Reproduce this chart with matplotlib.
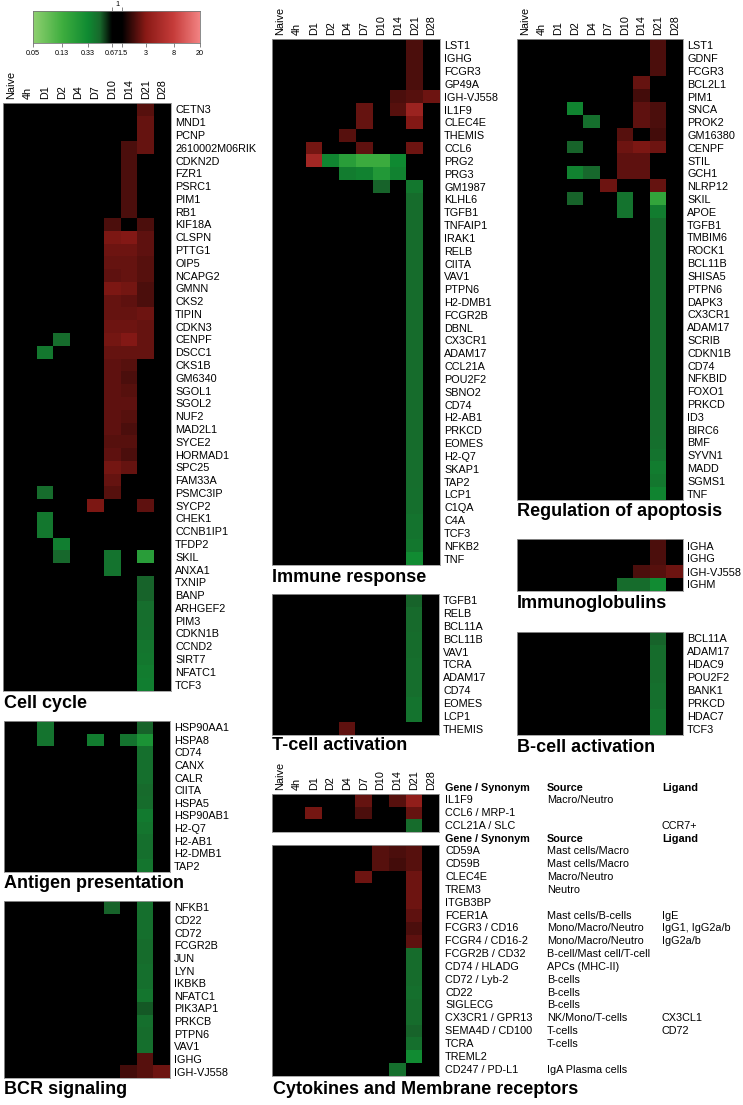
import numpy as np
import matplotlib
matplotlib.use("Agg")
import matplotlib.pyplot as plt
from matplotlib.colors import LinearSegmentedColormap, FuncNorm
from matplotlib import transforms

plt.rcParams['font.family'] = ['Liberation Sans', 'DejaVu Sans']

#=============== DADOS ===============#
o = 1.0  # sem alteração (fold change = 1)

time_points = ["Naive", "4h", "D1", "D2", "D4", "D7", "D10", "D14", "D21", "D28"]
scale_ticks = [0.05, 0.13, 0.33, 0.67, 1.5, 3, 8, 20]
scale_labels = ["0.05", "0.13", "0.33", "0.67", "1.5", "3", "8", "20"]

cc_genes = ["CETN3", "MND1", "PCNP", "2610002M06RIK", "CDKN2D", "FZR1", "PSRC1", "PIM1", "RB1",
            "KIF18A", "CLSPN", "PTTG1", "OIP5", "NCAPG2", "GMNN", "CKS2", "TIPIN", "CDKN3", "CENPF",
            "DSCC1", "CKS1B", "GM6340", "SGOL1", "SGOL2", "NUF2", "MAD2L1", "SYCE2", "HORMAD1",
            "SPC25", "FAM33A", "PSMC3IP", "SYCP2", "CHEK1", "CCNB1IP1", "TFDP2", "SKIL", "ANXA1",
            "TXNIP", "BANP", "ARHGEF2", "PIM3", "CDKN1B", "CCND2", "SIRT7", "NFATC1", "TCF3"]
cc_values = [
    [o, o, o, o, o, o, o, o, 2.3, o],
    [o, o, o, o, o, o, o, o, 2.5, o],
    [o, o, o, o, o, o, o, o, 2.5, o],
    [o, o, o, o, o, o, o, 2.2, 2.5, o],
    [o, o, o, o, o, o, o, 2.2, o, o],
    [o, o, o, o, o, o, o, 2.2, o, o],
    [o, o, o, o, o, o, o, 2.2, o, o],
    [o, o, o, o, o, o, o, 2.2, o, o],
    [o, o, o, o, o, o, o, 2.2, o, o],
    [o, o, o, o, o, o, 2.2, o, 2.2, o],
    [o, o, o, o, o, o, 2.8, 2.9, 2.4, o],
    [o, o, o, o, o, o, 2.6, 2.6, 2.4, o],
    [o, o, o, o, o, o, 2.5, 2.5, 2.3, o],
    [o, o, o, o, o, o, 2.4, 2.5, 2.3, o],
    [o, o, o, o, o, o, 2.8, 2.7, 2.2, o],
    [o, o, o, o, o, o, 2.5, 2.4, 2.2, o],
    [o, o, o, o, o, o, 2.5, 2.5, 2.6, o],
    [o, o, o, o, o, o, 2.6, 2.6, 2.5, o],
    [o, o, o, 0.45, o, o, 2.7, 2.9, 2.5, o],
    [o, o, 0.4, o, o, o, 2.5, 2.5, 2.5, o],
    [o, o, o, o, o, o, 2.4, 2.3, o, o],
    [o, o, o, o, o, o, 2.4, 2.2, o, o],
    [o, o, o, o, o, o, 2.4, 2.3, o, o],
    [o, o, o, o, o, o, 2.4, 2.4, o, o],
    [o, o, o, o, o, o, 2.4, 2.3, o, o],
    [o, o, o, o, o, o, 2.4, 2.2, o, o],
    [o, o, o, o, o, o, 2.3, 2.3, o, o],
    [o, o, o, o, o, o, 2.4, 2.2, o, o],
    [o, o, o, o, o, o, 2.7, 2.5, o, o],
    [o, o, o, o, o, o, 2.5, o, o, o],
    [o, o, 0.45, o, o, o, 2.3, o, o, o],
    [o, o, o, o, o, 2.8, o, o, 2.4, o],
    [o, o, 0.4, o, o, o, o, o, o, o],
    [o, o, 0.4, o, o, o, o, o, o, o],
    [o, o, o, 0.37, o, o, o, o, o, o],
    [o, o, o, 0.47, o, o, 0.42, o, 0.2, o],
    [o, o, o, o, o, o, 0.42, o, o, o],
    [o, o, o, o, o, o, o, o, 0.48, o],
    [o, o, o, o, o, o, o, o, 0.48, o],
    [o, o, o, o, o, o, o, o, 0.44, o],
    [o, o, o, o, o, o, o, o, 0.44, o],
    [o, o, o, o, o, o, o, o, 0.43, o],
    [o, o, o, o, o, o, o, o, 0.41, o],
    [o, o, o, o, o, o, o, o, 0.4, o],
    [o, o, o, o, o, o, o, o, 0.38, o],
    [o, o, o, o, o, o, o, o, 0.37, o],
]

ag_genes = ["HSP90AA1", "HSPA8", "CD74", "CANX", "CALR", "CIITA", "HSPA5", "HSP90AB1",
            "H2-Q7", "H2-AB1", "H2-DMB1", "TAP2"]
ag_values = [
    [o, o, 0.42, o, o, o, o, o, 0.48, o],
    [o, o, 0.42, o, o, 0.38, o, 0.42, 0.26, o],
    [o, o, o, o, o, o, o, o, 0.43, o],
    [o, o, o, o, o, o, o, o, 0.43, o],
    [o, o, o, o, o, o, o, o, 0.43, o],
    [o, o, o, o, o, o, o, o, 0.46, o],
    [o, o, o, o, o, o, o, o, 0.45, o],
    [o, o, o, o, o, o, o, o, 0.39, o],
    [o, o, o, o, o, o, o, o, 0.41, o],
    [o, o, o, o, o, o, o, o, 0.43, o],
    [o, o, o, o, o, o, o, o, 0.43, o],
    [o, o, o, o, o, o, o, o, 0.41, o],
]

bcr_genes = ["NFKB1", "CD22", "CD72", "FCGR2B", "JUN", "LYN", "IKBKB", "NFATC1", "PIK3AP1",
             "PRKCB", "PTPN6", "VAV1", "IGHG", "IGH-VJ558"]
bcr_values = [
    [o, o, o, o, o, o, 0.48, o, 0.43, o],
    [o, o, o, o, o, o, o, o, 0.43, o],
    [o, o, o, o, o, o, o, o, 0.43, o],
    [o, o, o, o, o, o, o, o, 0.45, o],
    [o, o, o, o, o, o, o, o, 0.45, o],
    [o, o, o, o, o, o, o, o, 0.43, o],
    [o, o, o, o, o, o, o, o, 0.43, o],
    [o, o, o, o, o, o, o, o, 0.41, o],
    [o, o, o, o, o, o, o, o, 0.5, o],
    [o, o, o, o, o, o, o, o, 0.43, o],
    [o, o, o, o, o, o, o, o, 0.45, o],
    [o, o, o, o, o, o, o, o, 0.43, o],
    [o, o, o, o, o, o, o, o, 2.3, o],
    [o, o, o, o, o, o, o, 2.1, 2.3, 2.6],
]

imm_genes = ["LST1", "IGHG", "FCGR3", "GP49A", "IGH-VJ558", "IL1F9", "CLEC4E", "THEMIS", "CCL6",
             "PRG2", "PRG3", "GM1987", "KLHL6", "TGFB1", "TNFAIP1", "IRAK1", "RELB", "CIITA",
             "VAV1", "PTPN6", "H2-DMB1", "FCGR2B", "DBNL", "CX3CR1", "ADAM17", "CCL21A", "POU2F2",
             "SBNO2", "CD74", "H2-AB1", "PRKCD", "EOMES", "H2-Q7", "SKAP1", "TAP2", "LCP1",
             "C1QA", "C4A", "TCF3", "NFKB2", "TNF"]
imm_values = [
    [o, o, o, o, o, o, o, o, 2.2, o],
    [o, o, o, o, o, o, o, o, 2.2, o],
    [o, o, o, o, o, o, o, o, 2.2, o],
    [o, o, o, o, o, o, o, o, 2.2, o],
    [o, o, o, o, o, o, o, 2.2, 2.3, 2.6],
    [o, o, o, o, o, 2.5, o, 2.3, 4.0, o],
    [o, o, o, o, o, 2.5, o, o, 2.9, o],
    [o, o, o, o, 2.3, o, o, o, o, o],
    [o, o, 2.7, o, o, 2.4, o, o, 2.6, o],
    [o, o, 4.5, 0.35, 0.2, 0.14, 0.14, 0.33, o, o],
    [o, o, o, o, 0.38, 0.36, 0.23, 0.36, o, o],
    [o, o, o, o, o, o, 0.48, o, 0.4, o],
    [o, o, o, o, o, o, o, o, 0.45, o],
    [o, o, o, o, o, o, o, o, 0.45, o],
    [o, o, o, o, o, o, o, o, 0.45, o],
    [o, o, o, o, o, o, o, o, 0.45, o],
    [o, o, o, o, o, o, o, o, 0.45, o],
    [o, o, o, o, o, o, o, o, 0.45, o],
    [o, o, o, o, o, o, o, o, 0.45, o],
    [o, o, o, o, o, o, o, o, 0.45, o],
    [o, o, o, o, o, o, o, o, 0.45, o],
    [o, o, o, o, o, o, o, o, 0.45, o],
    [o, o, o, o, o, o, o, o, 0.45, o],
    [o, o, o, o, o, o, o, o, 0.45, o],
    [o, o, o, o, o, o, o, o, 0.45, o],
    [o, o, o, o, o, o, o, o, 0.45, o],
    [o, o, o, o, o, o, o, o, 0.45, o],
    [o, o, o, o, o, o, o, o, 0.45, o],
    [o, o, o, o, o, o, o, o, 0.45, o],
    [o, o, o, o, o, o, o, o, 0.45, o],
    [o, o, o, o, o, o, o, o, 0.45, o],
    [o, o, o, o, o, o, o, o, 0.45, o],
    [o, o, o, o, o, o, o, o, 0.44, o],
    [o, o, o, o, o, o, o, o, 0.44, o],
    [o, o, o, o, o, o, o, o, 0.44, o],
    [o, o, o, o, o, o, o, o, 0.43, o],
    [o, o, o, o, o, o, o, o, 0.43, o],
    [o, o, o, o, o, o, o, o, 0.42, o],
    [o, o, o, o, o, o, o, o, 0.42, o],
    [o, o, o, o, o, o, o, o, 0.4, o],
    [o, o, o, o, o, o, o, o, 0.32, o],
]

tc_genes = ["TGFB1", "RELB", "BCL11A", "BCL11B", "VAV1", "TCRA", "ADAM17", "CD74", "EOMES",
            "LCP1", "THEMIS"]
tc_values = [
    [o, o, o, o, o, o, o, o, 0.48, o],
    [o, o, o, o, o, o, o, o, 0.46, o],
    [o, o, o, o, o, o, o, o, 0.46, o],
    [o, o, o, o, o, o, o, o, 0.45, o],
    [o, o, o, o, o, o, o, o, 0.45, o],
    [o, o, o, o, o, o, o, o, 0.44, o],
    [o, o, o, o, o, o, o, o, 0.44, o],
    [o, o, o, o, o, o, o, o, 0.44, o],
    [o, o, o, o, o, o, o, o, 0.42, o],
    [o, o, o, o, o, o, o, o, 0.42, o],
    [o, o, o, o, 2.4, o, o, o, o, o],
]

apo_genes = ["LST1", "GDNF", "FCGR3", "BCL2L1", "PIM1", "SNCA", "PROK2", "GM16380", "CENPF",
             "STIL", "GCH1", "NLRP12", "SKIL", "APOE", "TGFB1", "TMBIM6", "ROCK1", "BCL11B",
             "SHISA5", "PTPN6", "DAPK3", "CX3CR1", "ADAM17", "SCRIB", "CDKN1B", "CD74", "NFKBID",
             "FOXO1", "PRKCD", "ID3", "BIRC6", "BMF", "SYVN1", "MADD", "SGMS1", "TNF"]
apo_values = [
    [o, o, o, o, o, o, o, o, 2.2, o],
    [o, o, o, o, o, o, o, o, 2.2, o],
    [o, o, o, o, o, o, o, o, 2.2, o],
    [o, o, o, o, o, o, o, 2.5, o, o],
    [o, o, o, o, o, o, o, 2.1, o, o],
    [o, o, o, 0.35, o, o, o, 2.4, 2.2, o],
    [o, o, o, o, 0.43, o, o, 2.4, 2.2, o],
    [o, o, o, o, o, o, 2.3, o, 2.1, o],
    [o, o, o, 0.48, o, o, 2.6, 2.8, 2.6, o],
    [o, o, o, o, o, o, 2.4, 2.4, o, o],
    [o, o, o, 0.36, 0.47, o, 2.4, 2.4, o, o],
    [o, o, o, o, o, 2.6, o, o, 2.5, o],
    [o, o, o, 0.48, o, o, 0.42, o, 0.17, o],
    [o, o, o, o, o, o, 0.42, o, 0.38, o],
    [o, o, o, o, o, o, o, o, 0.45, o],
    [o, o, o, o, o, o, o, o, 0.45, o],
    [o, o, o, o, o, o, o, o, 0.45, o],
    [o, o, o, o, o, o, o, o, 0.45, o],
    [o, o, o, o, o, o, o, o, 0.45, o],
    [o, o, o, o, o, o, o, o, 0.45, o],
    [o, o, o, o, o, o, o, o, 0.45, o],
    [o, o, o, o, o, o, o, o, 0.45, o],
    [o, o, o, o, o, o, o, o, 0.45, o],
    [o, o, o, o, o, o, o, o, 0.45, o],
    [o, o, o, o, o, o, o, o, 0.45, o],
    [o, o, o, o, o, o, o, o, 0.45, o],
    [o, o, o, o, o, o, o, o, 0.45, o],
    [o, o, o, o, o, o, o, o, 0.45, o],
    [o, o, o, o, o, o, o, o, 0.45, o],
    [o, o, o, o, o, o, o, o, 0.44, o],
    [o, o, o, o, o, o, o, o, 0.44, o],
    [o, o, o, o, o, o, o, o, 0.43, o],
    [o, o, o, o, o, o, o, o, 0.42, o],
    [o, o, o, o, o, o, o, o, 0.38, o],
    [o, o, o, o, o, o, o, o, 0.4, o],
    [o, o, o, o, o, o, o, o, 0.35, o],
]

ig_genes = ["IGHA", "IGHG", "IGH-VJ558", "IGHM"]
ig_values = [
    [o, o, o, o, o, o, o, o, 2.2, o],
    [o, o, o, o, o, o, o, o, 2.2, o],
    [o, o, o, o, o, o, o, 2.2, 2.3, 2.6],
    [o, o, o, o, o, o, 0.45, 0.45, 0.32, o],
]

bc_genes = ["BCL11A", "ADAM17", "HDAC9", "POU2F2", "BANK1", "PRKCD", "HDAC7", "TCF3"]
bc_values = [
    [o, o, o, o, o, o, o, o, 0.48, o],
    [o, o, o, o, o, o, o, o, 0.45, o],
    [o, o, o, o, o, o, o, o, 0.45, o],
    [o, o, o, o, o, o, o, o, 0.45, o],
    [o, o, o, o, o, o, o, o, 0.43, o],
    [o, o, o, o, o, o, o, o, 0.43, o],
    [o, o, o, o, o, o, o, o, 0.41, o],
    [o, o, o, o, o, o, o, o, 0.41, o],
]

cyt_genes = ["IL1F9", "CCL6 / MRP-1", "CCL21A / SLC"]
cyt_sources = ["Macro/Neutro", "", ""]
cyt_ligands = ["", "", "CCR7+"]
cyt_values = [
    [o, o, o, o, o, 2.5, o, 2.3, 3.4, o],
    [o, o, 2.7, o, o, 2.2, o, o, 2.5, o],
    [o, o, o, o, o, o, o, o, 0.45, o],
]

mem_genes = ["CD59A", "CD59B", "CLEC4E", "TREM3", "ITGB3BP", "FCER1A", "FCGR3 / CD16",
             "FCGR4 / CD16-2", "FCGR2B / CD32", "CD74 / HLADG", "CD72 / Lyb-2", "CD22", "SIGLECG",
             "CX3CR1 / GPR13", "SEMA4D / CD100", "TCRA", "TREML2", "CD247 / PD-L1"]
mem_sources = ["Mast cells/Macro", "Mast cells/Macro", "Macro/Neutro", "Neutro", "",
               "Mast cells/B-cells", "Mono/Macro/Neutro", "Mono/Macro/Neutro",
               "B-cell/Mast cell/T-cell", "APCs (MHC-II)", "B-cells", "B-cells", "B-cells",
               "NK/Mono/T-cells", "T-cells", "T-cells", "", "IgA Plasma cells"]
mem_ligands = ["", "", "", "", "", "IgE", "IgG1, IgG2a/b", "IgG2a/b", "", "", "", "", "",
               "CX3CL1", "CD72", "", "", ""]
mem_values = [
    [o, o, o, o, o, o, 2.3, 2.2, 2.3, o],
    [o, o, o, o, o, o, 2.3, 2.1, 2.3, o],
    [o, o, o, o, o, 2.6, o, o, 2.6, o],
    [o, o, o, o, o, o, o, o, 2.6, o],
    [o, o, o, o, o, o, o, o, 2.6, o],
    [o, o, o, o, o, o, o, o, 2.4, o],
    [o, o, o, o, o, o, o, o, 2.2, o],
    [o, o, o, o, o, o, o, o, 2.4, o],
    [o, o, o, o, o, o, o, o, 0.45, o],
    [o, o, o, o, o, o, o, o, 0.45, o],
    [o, o, o, o, o, o, o, o, 0.45, o],
    [o, o, o, o, o, o, o, o, 0.43, o],
    [o, o, o, o, o, o, o, o, 0.45, o],
    [o, o, o, o, o, o, o, o, 0.45, o],
    [o, o, o, o, o, o, o, o, 0.48, o],
    [o, o, o, o, o, o, o, o, 0.43, o],
    [o, o, o, o, o, o, o, o, 0.32, o],
    [o, o, o, o, o, o, o, 0.43, o, o],
]

#=============== ESCALA DE CORES ===============#
W, H = 743, 1105
scale_pos = [0.0, 0.174, 0.329, 0.473, 0.533, 0.677, 0.844, 1.0]
cmap_pos = [0.0, 0.174, 0.329, 0.401, 0.473, 0.533, 0.677, 0.844, 1.0]
cmap_colors = ["#8fd070", "#3fae3f", "#0f8a32", "#18682c", "#000000", "#000000",
               "#8a1a16", "#c63c3a", "#f28282"]
log_ticks = np.log(scale_ticks)


def fwd(v):
    return np.interp(np.log(np.asarray(v, dtype=float)), log_ticks, scale_pos)


def inv(p):
    return np.exp(np.interp(np.asarray(p, dtype=float), scale_pos, log_ticks))


norm = FuncNorm((fwd, inv), vmin=scale_ticks[0], vmax=scale_ticks[-1])
cmap = LinearSegmentedColormap.from_list("fold", list(zip(cmap_pos, cmap_colors)))

fig = plt.figure(figsize=(W / 100, H / 100), dpi=100)


def box(x0, y0, x1, y1):
    # caixa em pixels -> coordenadas da figura
    return [x0 / W, 1 - y1 / H, (x1 - x0) / W, (y1 - y0) / H]


def heat(b, values, genes=None, top_labels=False):
    ax = fig.add_axes(box(*b))
    ax.imshow(np.array(values), cmap=cmap, norm=norm, aspect='auto', interpolation='nearest')
    ax.tick_params(length=0, pad=3, labelsize=7.8)
    if genes is not None:
        ax.set_yticks(range(len(genes)))
        ax.set_yticklabels(genes)
        ax.yaxis.tick_right()
    else:
        ax.set_yticks([])
    if top_labels:
        ax.xaxis.tick_top()
        ax.set_xticks(range(len(time_points)))
        ax.set_xticklabels(time_points, rotation=90)
    else:
        ax.set_xticks([])
    for s in ax.spines.values():
        s.set_color('#9a9a9a')
        s.set_linewidth(0.6)
    return ax


def title(x, y, txt):
    fig.text(x / W, 1 - y / H, txt, fontsize=13, fontweight='bold', ha='left', va='center')


#=============== BARRA DE CORES ===============#
cax = fig.add_axes(box(33, 11, 200, 43))
grad = inv(np.linspace(0, 1, 400))
cax.imshow(grad[None, :], cmap=cmap, norm=norm, aspect='auto', extent=[0, 1, 0, 1])
cax.set_xlim(0, 1)
cax.set_xticks(fwd(scale_ticks))
cax.set_xticklabels(scale_labels, fontsize=5.2)
cax.set_yticks([])
cax.tick_params(axis='x', length=3, width=0.5, pad=2, color='#555555')
for s in cax.spines.values():
    s.set_color('#777777')
    s.set_linewidth(0.6)
sec = cax.secondary_xaxis('top')
sec.set_xticks(fwd([0.67, 1.5]))
sec.set_xticklabels(["", ""])
sec.tick_params(length=3, width=0.5, color='#555555')
sec.spines['top'].set_visible(False)
cax.text(float(np.mean(fwd([0.67, 1.5]))), 1.1, "1", fontsize=5.2, ha='center', va='bottom',
         transform=transforms.blended_transform_factory(cax.transData, cax.transAxes))

#=============== PAINÉIS ===============#
heat((3, 103, 171, 691), cc_values, cc_genes, top_labels=True)
title(4, 704, "Cell cycle")
heat((4, 721, 170, 872), ag_values, ag_genes)
title(4, 884, "Antigen presentation")
heat((4, 901, 170, 1078), bcr_values, bcr_genes)
title(4, 1090, "BCR signaling")

heat((272, 39, 440, 565), imm_values, imm_genes, top_labels=True)
title(272, 578, "Immune response")
heat((272, 594, 439, 735), tc_values, tc_genes)
title(272, 745, "T-cell activation")

heat((517, 39, 683, 500), apo_values, apo_genes, top_labels=True)
title(517, 511, "Regulation of apoptosis")
heat((517, 539, 683, 591), ig_values, ig_genes)
title(517, 604, "Immunoglobulins")
heat((517, 632, 683, 735), bc_values, bc_genes)
title(517, 747, "B-cell activation")

# citocinas e receptores de membrana (dois blocos com tabela ao lado)
ax_c = heat((272, 794, 439, 832), cyt_values, top_labels=True)
ax_m = heat((272, 845, 439, 1076), mem_values)
text_x = [445, 547, 662]
headers = ["Gene / Synonym", "Source", "Ligand"]
for ax, genes, sources, ligands in [(ax_c, cyt_genes, cyt_sources, cyt_ligands),
                                    (ax_m, mem_genes, mem_sources, mem_ligands)]:
    tr = transforms.blended_transform_factory(fig.transFigure, ax.transData)
    for x, h in zip(text_x, headers):
        ax.text(x / W, -1, h, fontsize=7.8, fontweight='bold', va='center', ha='left',
                transform=tr, clip_on=False)
    for i, row in enumerate(zip(genes, sources, ligands)):
        for x, t in zip(text_x, row):
            ax.text(x / W, i, t, fontsize=7.8, va='center', ha='left', transform=tr, clip_on=False)
title(273, 1089, "Cytokines and Membrane receptors")

fig.savefig("out.png", dpi=100, facecolor='white')
